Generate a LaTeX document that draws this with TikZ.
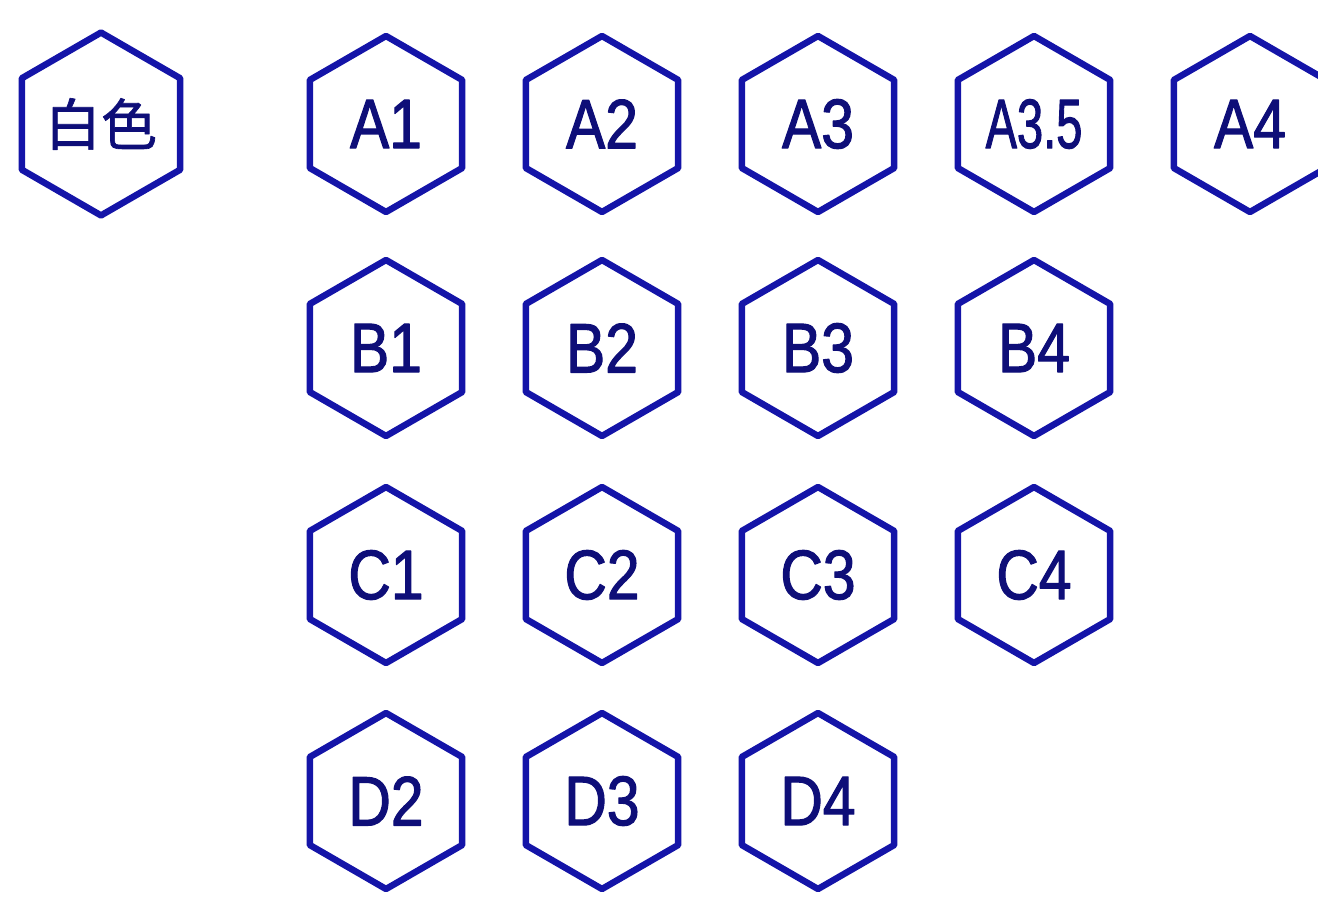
\documentclass[tikz,border=0pt]{standalone}
\usepackage{fontspec}
\setmainfont[FakeStretch=0.84,FakeBold=1.6]{Liberation Sans}
\newfontfamily\cjk[FakeBold=1.2]{Noto Sans CJK SC}
\usetikzlibrary{shapes.geometric}
\definecolor{hexblue}{HTML}{1414A8}
\definecolor{txtblue}{HTML}{0E0E78}
\tikzset{
  hexnode/.style={regular polygon, regular polygon sides=6, shape border rotate=30,
    minimum size=176pt, inner sep=0pt, draw=hexblue, line width=6.5pt, line join=round,
    text=txtblue, font=\fontsize{70}{70}\selectfont}
}
\begin{document}
\begin{tikzpicture}[x=1pt,y=-1pt]
\useasboundingbox (0,0) rectangle (1318,917);
\clip (0,0) rectangle (1318,917);
\node[hexnode] (w) at (101,124) {\cjk\fontsize{56}{56}\selectfont 白色};
\node[hexnode] (a1) at (386,124) {A1};
\node[hexnode] (a2) at (602,124) {A2};
\node[hexnode] (a3) at (818,124) {A3};
\node[hexnode] (a35) at (1034,124) {\scalebox{0.8}[1]{A3.5}};
\node[hexnode] (a4) at (1250,124) {A4};
\node[hexnode] (b1) at (386,348) {B1};
\node[hexnode] (b2) at (602,348) {B2};
\node[hexnode] (b3) at (818,348) {B3};
\node[hexnode] (b4) at (1034,348) {B4};
\node[hexnode] (c1) at (386,575) {C1};
\node[hexnode] (c2) at (602,575) {C2};
\node[hexnode] (c3) at (818,575) {C3};
\node[hexnode] (c4) at (1034,575) {C4};
\node[hexnode] (d2) at (386,801) {D2};
\node[hexnode] (d3) at (602,801) {D3};
\node[hexnode] (d4) at (818,801) {D4};
\end{tikzpicture}
\end{document}
